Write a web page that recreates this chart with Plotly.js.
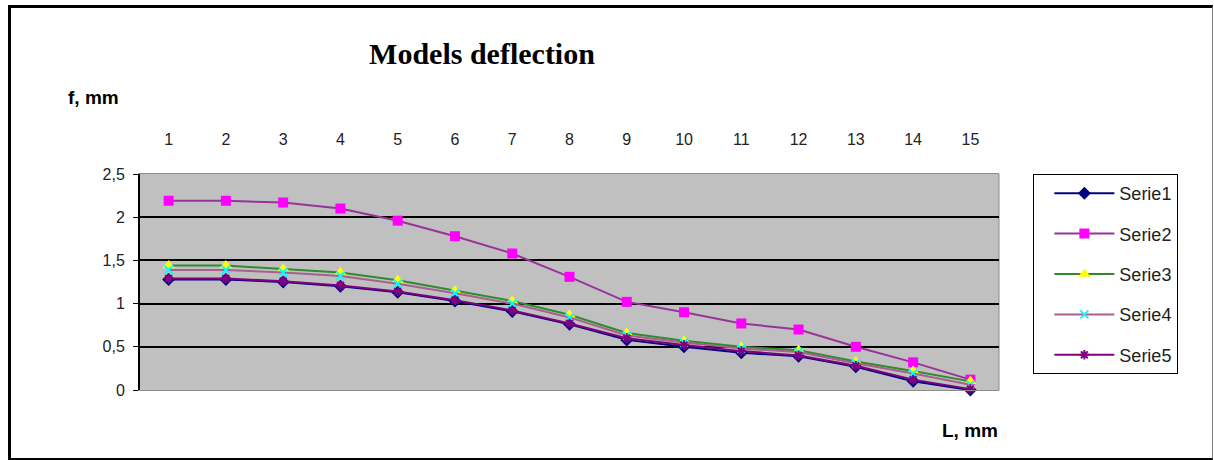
<!DOCTYPE html>
<html>
<head>
<meta charset="utf-8">
<script src="https://cdn.plot.ly/plotly-3.0.1.min.js"></script>
<style>
  html, body { margin: 0; padding: 0; background: #ffffff; }
  #wrap { position: relative; width: 1214px; height: 460px; }
  #chart { width: 1214px; height: 460px; }
  #frame { position: absolute; left: 8px; top: 5px; width: 1201px; height: 450px;
           border-left: 3px solid #000; border-top: 3px solid #000;
           border-right: 1px solid #808080; border-bottom: 2px solid #000;
           pointer-events: none; }
</style>
</head>
<body>
<div id="wrap">
  <div id="chart"></div>
  <div id="frame"></div>
</div>
<script>
// Categories (L positions) and series values (deflection f, mm)
const categories = ['1','2','3','4','5','6','7','8','9','10','11','12','13','14','15'];
const serie1 = [1.28,1.28,1.25,1.20,1.13,1.03,0.91,0.76,0.58,0.50,0.43,0.39,0.27,0.10,0.00];
const serie2 = [2.19,2.19,2.17,2.10,1.96,1.78,1.58,1.31,1.02,0.90,0.77,0.70,0.50,0.32,0.12];
const serie3 = [1.44,1.44,1.40,1.36,1.27,1.15,1.03,0.87,0.66,0.57,0.50,0.46,0.33,0.22,0.10];
const serie4 = [1.39,1.39,1.36,1.32,1.23,1.12,1.00,0.84,0.63,0.55,0.48,0.44,0.31,0.19,0.06];
const serie5 = [1.29,1.29,1.26,1.21,1.14,1.04,0.92,0.77,0.60,0.52,0.45,0.40,0.28,0.12,0.01];
const seriesNames = ['Serie1','Serie2','Serie3','Serie4','Serie5'];
const yTicks = [0, 0.5, 1, 1.5, 2, 2.5];

const styles = [
  {line: '#000080', marker: {symbol: 'diamond', size: 10, color: '#000080'}},
  {line: '#993399', marker: {symbol: 'square', size: 10, color: '#ff00ff'}},
  {line: '#2e8b2e', marker: {symbol: 'triangle-up', size: 11, color: '#ffff00'}},
  {line: '#a8608c', marker: {symbol: 'x-thin', size: 8, color: '#00ffff', line: {color: '#00ffff', width: 2}}},
  {line: '#800080', marker: {symbol: 'asterisk', size: 8, color: '#800080', line: {color: '#800080', width: 2}}}
];
const allSeries = [serie1, serie2, serie3, serie4, serie5];

const traces = allSeries.map((vals, i) => ({
  type: 'scatter',
  mode: 'lines+markers',
  name: seriesNames[i],
  legendgroup: 'g' + i,
  x: categories,
  y: vals,
  cliponaxis: false,
  line: {color: styles[i].line, width: 2},
  marker: styles[i].marker
}));

const layout = {
  width: 1214,
  height: 460,
  margin: {l: 140, r: 215, t: 174, b: 70},
  paper_bgcolor: '#ffffff',
  plot_bgcolor: '#c0c0c0',
  separators: ',.',
  font: {family: 'Liberation Sans, Arial, sans-serif', size: 16, color: '#222222'},
  title: {
    text: '<b>Models deflection</b>',
    font: {family: 'Liberation Serif, Times New Roman, serif', size: 30, color: '#000000'},
    xref: 'container', yref: 'container',
    x: 482 / 1214, xanchor: 'center',
    y: 1 - 53 / 460, yanchor: 'middle'
  },
  showlegend: true,
  legend: {
    x: 1.04, xanchor: 'left',
    y: 1, yanchor: 'top',
    bgcolor: '#ffffff',
    bordercolor: '#000000',
    borderwidth: 1,
    traceorder: 'grouped',
    tracegroupgap: 14,
    indentation: 15,
    itemwidth: 60,
    font: {family: 'Liberation Sans, Arial, sans-serif', size: 18, color: '#222222'}
  },
  xaxis: {
    type: 'category',
    range: [-0.5, 14.5],
    side: 'top',
    showgrid: false,
    zeroline: false,
    showline: true,
    mirror: true,
    linecolor: '#8c8c8c',
    linewidth: 1,
    ticks: 'outside',
    ticklen: 22,
    tickcolor: 'rgba(0,0,0,0)',
    tickfont: {size: 16, color: '#222222'}
  },
  yaxis: {
    range: [0, 2.5],
    tickvals: yTicks,
    showgrid: true,
    gridcolor: '#000000',
    gridwidth: 2,
    zeroline: false,
    showline: true,
    linecolor: '#000000',
    linewidth: 2,
    ticks: 'outside',
    ticklen: 5,
    tickcolor: '#000000',
    ticklabelstandoff: 5,
    tickfont: {size: 16, color: '#222222'}
  },
  shapes: [
    {type: 'line', xref: 'paper', yref: 'paper', x0: 1, x1: 1, y0: 0, y1: 1,
     line: {color: '#8c8c8c', width: 1}, layer: 'below'}
  ],
  annotations: [
    {text: '<b>f, mm</b>', xref: 'paper', yref: 'paper',
     x: (66 - 140) / 859, xanchor: 'left', y: 1 + (174 - 97) / 216, yanchor: 'middle',
     showarrow: false, font: {family: 'Liberation Sans, Arial, sans-serif', size: 19, color: '#000000'}},
    {text: '<b>L, mm</b>', xref: 'paper', yref: 'paper',
     x: (940 - 140) / 859, xanchor: 'left', y: -(430 - 390) / 216, yanchor: 'middle',
     showarrow: false, font: {family: 'Liberation Sans, Arial, sans-serif', size: 19, color: '#000000'}}
  ]
};

Plotly.newPlot('chart', traces, layout, {displayModeBar: false, staticPlot: true});
</script>
</body>
</html>
